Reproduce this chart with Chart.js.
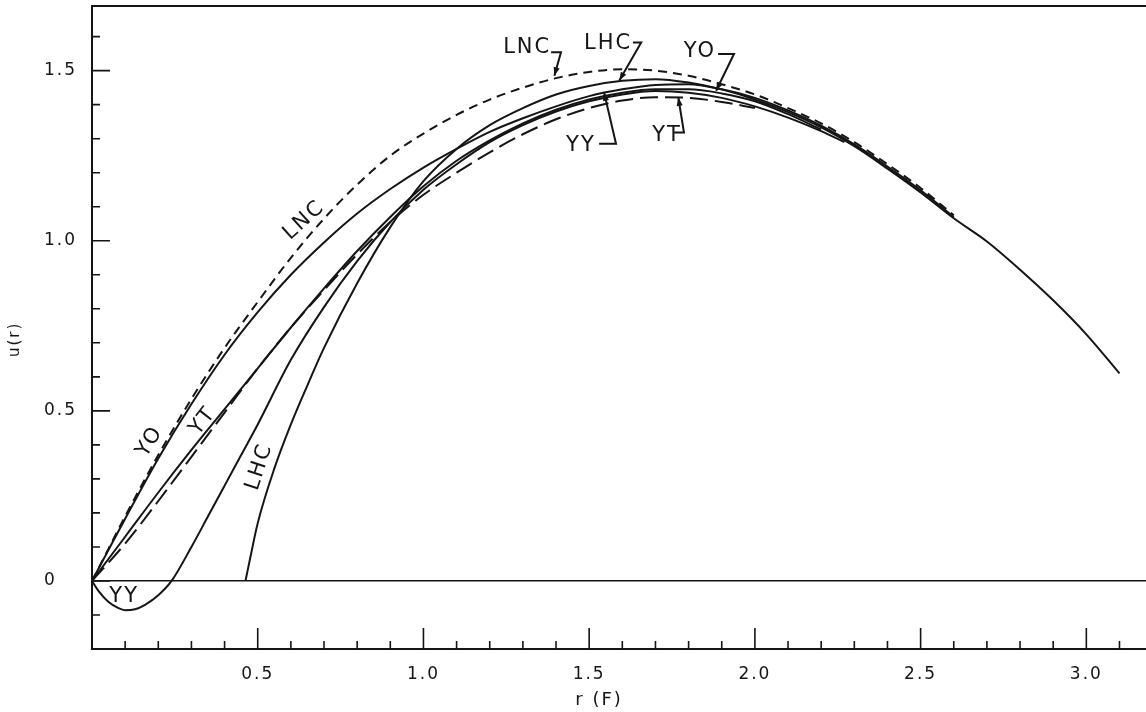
<!DOCTYPE html>
<html lang="en">
<head>
<meta charset="UTF-8">
<title>u(r)</title>
<script src="https://cdn.jsdelivr.net/npm/chart.js@4.4.1/dist/chart.umd.min.js"></script>
<style>
    * { margin: 0; padding: 0; box-sizing: border-box; }
    body { background: #fff; }
    .wrap { width: 1146px; height: 712px; }
</style>
</head>
<body>
<div class="wrap"><canvas id="uChart"></canvas></div>
<script>
// values: r in F, u(r)
const lncR = [0, 0.05, 0.1, 0.2, 0.3, 0.4, 0.5, 0.6, 0.7, 0.8, 0.9, 1.0, 1.1, 1.2, 1.3, 1.4, 1.5, 1.6, 1.7, 1.8, 1.9, 2.0, 2.1, 2.2, 2.3, 2.4, 2.5, 2.6];
const lncU = [0, 0.095, 0.19, 0.37, 0.535, 0.685, 0.82, 0.95, 1.065, 1.165, 1.25, 1.315, 1.37, 1.415, 1.45, 1.478, 1.496, 1.504, 1.5, 1.485, 1.46, 1.43, 1.39, 1.345, 1.29, 1.225, 1.155, 1.075];

const yoR = [0, 0.05, 0.1, 0.2, 0.3, 0.4, 0.5, 0.6, 0.7, 0.8, 0.9, 1.0, 1.1, 1.2, 1.3, 1.4, 1.5, 1.6, 1.7, 1.8, 1.9, 2.0, 2.1, 2.2, 2.3, 2.4, 2.5, 2.6];
const yoU = [0, 0.092, 0.183, 0.36, 0.52, 0.665, 0.79, 0.9, 0.995, 1.08, 1.152, 1.215, 1.27, 1.32, 1.36, 1.395, 1.425, 1.445, 1.458, 1.46, 1.445, 1.42, 1.383, 1.338, 1.283, 1.218, 1.148, 1.07];

// thin solid line running just above YT near the origin
const thinR = [0, 0.1, 0.2, 0.3, 0.4, 0.5, 0.6, 0.7, 0.8, 0.9, 1.0, 1.1, 1.2, 1.3, 1.4, 1.5, 1.6, 1.7, 1.8, 1.9, 2.0, 2.1, 2.2];
const thinU = [0, 0.13, 0.26, 0.385, 0.505, 0.625, 0.745, 0.86, 0.97, 1.07, 1.16, 1.235, 1.295, 1.345, 1.385, 1.415, 1.435, 1.445, 1.445, 1.433, 1.41, 1.372, 1.327];

const ytR = [0, 0.1, 0.2, 0.3, 0.4, 0.5, 0.6, 0.7, 0.8, 0.9, 1.0, 1.1, 1.2, 1.3, 1.4, 1.5, 1.6, 1.7, 1.8, 1.9, 2.0];
const ytU = [0, 0.11, 0.235, 0.365, 0.495, 0.625, 0.745, 0.855, 0.96, 1.055, 1.135, 1.2, 1.26, 1.313, 1.357, 1.39, 1.412, 1.422, 1.42, 1.408, 1.39];

const yyR = [0, 0.02, 0.05, 0.08, 0.1, 0.13, 0.16, 0.2, 0.24, 0.3, 0.35, 0.4, 0.45, 0.5, 0.6, 0.7, 0.8, 0.9, 1.0, 1.1, 1.2, 1.3, 1.4, 1.5, 1.6, 1.7, 1.8, 1.9, 2.0, 2.1, 2.2, 2.27];
const yyU = [0, -0.03, -0.062, -0.08, -0.086, -0.083, -0.07, -0.042, 0, 0.1, 0.19, 0.28, 0.37, 0.46, 0.65, 0.805, 0.94, 1.055, 1.15, 1.225, 1.29, 1.34, 1.38, 1.41, 1.43, 1.44, 1.435, 1.42, 1.395, 1.362, 1.322, 1.29];

const lhcR = [0.463, 0.48, 0.5, 0.55, 0.6, 0.65, 0.7, 0.8, 0.9, 1.0, 1.1, 1.2, 1.3, 1.4, 1.5, 1.6, 1.7, 1.8, 1.9, 2.0, 2.1, 2.2, 2.3, 2.4, 2.5, 2.6, 2.7, 2.8, 2.9, 3.0, 3.1];
const lhcU = [0, 0.08, 0.17, 0.33, 0.46, 0.575, 0.685, 0.875, 1.04, 1.175, 1.27, 1.34, 1.39, 1.43, 1.455, 1.47, 1.475, 1.465, 1.445, 1.415, 1.378, 1.333, 1.278, 1.212, 1.142, 1.066, 0.998, 0.915, 0.825, 0.725, 0.61];

const xMajor = [0.5, 1.0, 1.5, 2.0, 2.5, 3.0];
const xTickLabels = ['0.5', '1.0', '1.5', '2.0', '2.5', '3.0'];
const yMajor = [0, 0.5, 1.0, 1.5];
const yTickLabels = ['0', '0.5', '1.0', '1.5'];
const xTitle = { text: 'r (F)', r: 1.53 };
const yTitle = { text: 'u(r)', u: 0.71 };

// curve names written on the plot, in data units
const curveLabels = [
    { text: 'YO', r: 0.175, u: 0.41, rot: -58 },
    { text: 'YT', r: 0.335, u: 0.47, rot: -52 },
    { text: 'LHC', r: 0.505, u: 0.335, rot: -72 },
    { text: 'YY', r: 0.097, u: -0.047, rot: 0 },
    { text: 'LNC', r: 0.64, u: 1.06, rot: -42 },
    { text: 'LNC', r: 1.313, u: 1.568, rot: 0 },
    { text: 'LHC', r: 1.557, u: 1.58, rot: 0 },
    { text: 'YO', r: 1.834, u: 1.557, rot: 0 },
    { text: 'YY', r: 1.475, u: 1.28, rot: 0 },
    { text: 'YT', r: 1.735, u: 1.31, rot: 0 }
];
// leader lines, arrow at the last point
const pointers = [
    [[1.385, 1.554], [1.415, 1.554], [1.395, 1.485]],
    [[1.632, 1.583], [1.657, 1.583], [1.591, 1.471]],
    [[1.889, 1.549], [1.937, 1.549], [1.883, 1.441]],
    [[1.53, 1.285], [1.581, 1.285], [1.545, 1.436]],
    [[1.756, 1.318], [1.786, 1.318], [1.769, 1.421]]
];

const INK = '#151515';

function series(rs, us) {
    return rs.map((r, i) => ({ x: r, y: us[i] }));
}

function curve(label, rs, us, dash) {
    return {
        label: label,
        data: series(rs, us),
        borderColor: INK,
        borderWidth: 2,
        borderDash: dash,
        pointRadius: 0,
        fill: false,
        cubicInterpolationMode: 'monotone'
    };
}

function near(v, list) {
    return list.findIndex(m => Math.abs(m - v) < 1e-6);
}

const decorations = {
    id: 'decorations',
    beforeDraw(chart) {
        chart.ctx.letterSpacing = '2px';
    },
    afterDraw(chart) {
        const { ctx, chartArea: a, scales: { x, y } } = chart;
        ctx.save();
        ctx.strokeStyle = INK;
        ctx.fillStyle = INK;
        ctx.lineWidth = 2;

        // top frame
        ctx.beginPath();
        ctx.moveTo(a.left - 1, a.top);
        ctx.lineTo(a.right, a.top);
        ctx.stroke();

        // ticks point inward
        ctx.lineWidth = 1.6;
        ctx.beginPath();
        x.ticks.forEach(t => {
            if (t.value <= 0) return;
            const px = x.getPixelForValue(t.value);
            const len = near(t.value, xMajor) >= 0 ? 21 : 8;
            ctx.moveTo(px, a.bottom);
            ctx.lineTo(px, a.bottom - len);
        });
        y.ticks.forEach(t => {
            if (t.value <= y.min + 1e-6) return;
            const py = y.getPixelForValue(t.value);
            const len = near(t.value, yMajor) >= 0 ? 18 : 8;
            ctx.moveTo(a.left, py);
            ctx.lineTo(a.left + len, py);
        });
        ctx.stroke();

        // y tick labels, left aligned like the lettering
        ctx.font = '17px "DejaVu Sans"';
        ctx.textAlign = 'left';
        ctx.textBaseline = 'middle';
        yMajor.forEach((v, i) => {
            ctx.fillText(yTickLabels[i], a.left - 48, y.getPixelForValue(v));
        });

        // axis titles
        ctx.textAlign = 'center';
        ctx.font = '18px "DejaVu Sans"';
        ctx.fillText(xTitle.text, x.getPixelForValue(xTitle.r), a.bottom + 51);
        ctx.save();
        ctx.font = '15px "DejaVu Sans"';
        ctx.translate(15, y.getPixelForValue(yTitle.u));
        ctx.rotate(-Math.PI / 2);
        ctx.fillText(yTitle.text, 0, 0);
        ctx.restore();

        // curve names
        ctx.font = '21px "DejaVu Sans"';
        curveLabels.forEach(l => {
            ctx.save();
            ctx.translate(x.getPixelForValue(l.r), y.getPixelForValue(l.u));
            ctx.rotate(l.rot * Math.PI / 180);
            ctx.fillText(l.text, 0, 0);
            ctx.restore();
        });

        // leaders with arrow heads
        ctx.lineWidth = 2;
        pointers.forEach(p => {
            const pts = p.map(q => [x.getPixelForValue(q[0]), y.getPixelForValue(q[1])]);
            ctx.beginPath();
            pts.forEach((q, i) => i ? ctx.lineTo(q[0], q[1]) : ctx.moveTo(q[0], q[1]));
            ctx.stroke();
            const [x1, y1] = pts[pts.length - 2];
            const [x2, y2] = pts[pts.length - 1];
            const ang = Math.atan2(y2 - y1, x2 - x1);
            ctx.beginPath();
            ctx.moveTo(x2, y2);
            ctx.lineTo(x2 - 9 * Math.cos(ang - 0.35), y2 - 9 * Math.sin(ang - 0.35));
            ctx.lineTo(x2 - 9 * Math.cos(ang + 0.35), y2 - 9 * Math.sin(ang + 0.35));
            ctx.closePath();
            ctx.fill();
        });
        ctx.restore();
    }
};

const ctx = document.getElementById('uChart').getContext('2d');
const uChart = new Chart(ctx, {
    type: 'line',
    data: {
        datasets: [
            curve('LNC', lncR, lncU, [9, 6]),
            curve('YO', yoR, yoU, []),
            curve('thin', thinR, thinU, []),
            curve('YT', ytR, ytU, [18, 7]),
            curve('YY', yyR, yyU, []),
            curve('LHC', lhcR, lhcU, [])
        ]
    },
    options: {
        responsive: true,
        maintainAspectRatio: false,
        animation: false,
        devicePixelRatio: 1,
        layout: { padding: { top: 6, right: 0, left: 0, bottom: 0 } },
        plugins: { legend: { display: false }, tooltip: { enabled: false } },
        scales: {
            x: {
                type: 'linear',
                min: 0,
                max: 3.18,
                afterBuildTicks: s => {
                    const t = [];
                    for (let i = 0; i <= 31; i++) t.push({ value: i / 10 });
                    s.ticks = t;
                },
                afterFit: s => { s.height = 63; s.paddingLeft = 0; s.paddingRight = 0; },
                grid: { display: false },
                border: { display: true, color: INK, width: 2 },
                ticks: {
                    autoSkip: false,
                    maxRotation: 0,
                    padding: 7,
                    color: INK,
                    font: { family: 'DejaVu Sans', size: 17 },
                    callback: v => { const k = near(v, xMajor); return k >= 0 ? xTickLabels[k] : ''; }
                }
            },
            y: {
                type: 'linear',
                min: -0.2,
                max: 1.69,
                afterBuildTicks: s => {
                    const t = [];
                    for (let i = -2; i <= 16; i++) t.push({ value: i / 10 });
                    s.ticks = t;
                },
                afterFit: s => { s.width = 92; s.paddingTop = 0; s.paddingBottom = 0; },
                grid: {
                    display: true,
                    drawTicks: false,
                    drawOnChartArea: true,
                    color: c => (c.tick && c.tick.value === 0 ? INK : 'rgba(0,0,0,0)'),
                    lineWidth: c => (c.tick && c.tick.value === 0 ? 1.6 : 0)
                },
                border: { display: true, color: INK, width: 2 },
                ticks: { display: false }
            }
        }
    },
    plugins: [decorations]
});
</script>
</body>
</html>
